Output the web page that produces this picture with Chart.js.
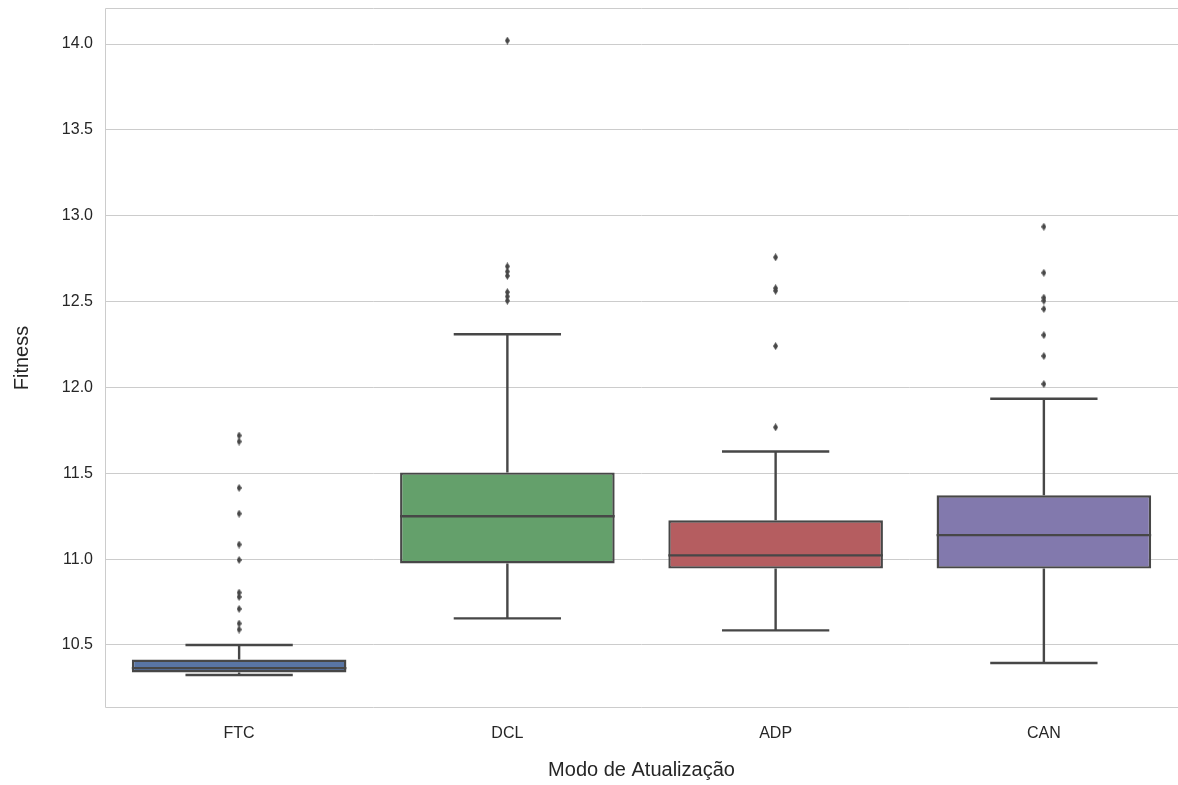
<!DOCTYPE html>
<html>
<head>
<meta charset="utf-8">
<title>Fitness por modo de atualização</title>
<script src="https://cdn.jsdelivr.net/npm/chart.js"></script>
<style>
  html, body { margin: 0; padding: 0; background: #fff; overflow: hidden; }
  canvas { display: block; }
</style>
</head>
<body>
<canvas id="boxChart" width="1178" height="785"></canvas>
<script>
// box statistics per update mode
const modes = ['FTC', 'DCL', 'ADP', 'CAN'];
const whiskerLow = [10.325, 10.655, 10.585, 10.395];
const q1 = [10.34, 10.975, 10.945, 10.945];
const medians = [10.365, 11.25, 11.022, 11.14];
const q3 = [10.415, 11.505, 11.226, 11.372];
const whiskerHigh = [10.5, 12.31, 11.627, 11.934];
const outliers = [
    [11.72, 11.685, 11.415, 11.265, 11.085, 10.995, 10.805, 10.78, 10.71, 10.625, 10.59],
    [14.02, 12.705, 12.675, 12.65, 12.555, 12.53, 12.505],
    [12.758, 12.578, 12.563, 12.241, 11.768],
    [12.936, 12.668, 12.523, 12.505, 12.457, 12.305, 12.183, 12.02]
];
const yTicks = [10.5, 11.0, 11.5, 12.0, 12.5, 13.0, 13.5, 14.0];

const boxColors = ['#5975a4', '#64a06b', '#b55d60', '#8279ad'];
const lineColor = '#474747';
const gridColor = '#cccccc';
const textColor = '#262626';
const fontFamily = '"Liberation Sans", Arial, sans-serif';

// thin diamond used for the fliers
function diamond(w, h, color) {
    const c = document.createElement('canvas');
    c.width = w;
    c.height = h;
    const g = c.getContext('2d');
    g.fillStyle = color;
    g.beginPath();
    g.moveTo(w / 2, 0);
    g.lineTo(w, h / 2);
    g.lineTo(w / 2, h);
    g.lineTo(0, h / 2);
    g.closePath();
    g.fill();
    return c;
}

const flierPoints = [];
outliers.forEach((list, i) => {
    list.forEach(v => flierPoints.push({ x: modes[i], y: v }));
});

// light frame around the plot area (right side falls off the canvas)
const frame = {
    id: 'frame',
    beforeDatasetsDraw(chart) {
        const { ctx, chartArea: a } = chart;
        const l = Math.round(a.left) + 0.5;
        const t = Math.round(a.top) + 0.5;
        const b = Math.round(a.bottom) - 0.5;
        ctx.save();
        ctx.strokeStyle = gridColor;
        ctx.lineWidth = 1;
        ctx.beginPath();
        ctx.moveTo(a.right, t); ctx.lineTo(l, t);
        ctx.lineTo(l, b); ctx.lineTo(a.right, b);
        ctx.stroke();
        ctx.restore();
    }
};

// whiskers, caps and median lines
const boxLines = {
    id: 'boxLines',
    afterDatasetsDraw(chart) {
        const { ctx, scales: { x, y } } = chart;
        const bars = chart.getDatasetMeta(0).data;
        ctx.save();
        ctx.strokeStyle = lineColor;
        ctx.lineWidth = 2.4;
        ctx.lineCap = 'butt';
        modes.forEach((m, i) => {
            const cx = x.getPixelForValue(i);
            const half = bars[i].width / 2;
            const cap = half / 2;
            const yq1 = y.getPixelForValue(q1[i]);
            const yq3 = y.getPixelForValue(q3[i]);
            const ylo = y.getPixelForValue(whiskerLow[i]);
            const yhi = y.getPixelForValue(whiskerHigh[i]);
            const ymed = y.getPixelForValue(medians[i]);
            ctx.beginPath();
            ctx.moveTo(cx, yq3); ctx.lineTo(cx, yhi);
            ctx.moveTo(cx - cap, yhi); ctx.lineTo(cx + cap, yhi);
            ctx.moveTo(cx, yq1); ctx.lineTo(cx, ylo);
            ctx.moveTo(cx - cap, ylo); ctx.lineTo(cx + cap, ylo);
            ctx.moveTo(cx - half, ymed); ctx.lineTo(cx + half, ymed);
            ctx.stroke();
        });
        ctx.restore();
    }
};

new Chart(document.getElementById('boxChart'), {
    type: 'bar',
    data: {
        labels: modes,
        datasets: [
            {
                type: 'bar',
                data: modes.map((m, i) => [q1[i], q3[i]]),
                backgroundColor: boxColors,
                borderColor: lineColor,
                borderWidth: 2.4,
                borderSkipped: false,
                barPercentage: 0.8,
                categoryPercentage: 1.0,
                order: 2
            },
            {
                type: 'scatter',
                data: flierPoints,
                pointStyle: diamond(5, 8, lineColor),
                pointRadius: 4,
                order: 1
            }
        ]
    },
    options: {
        responsive: false,
        animation: false,
        layout: { autoPadding: false, padding: { top: 8, right: 0, left: 0, bottom: 0 } },
        plugins: {
            legend: { display: false },
            tooltip: { enabled: false }
        },
        scales: {
            x: {
                type: 'category',
                offset: true,
                grid: { display: false },
                border: { display: false },
                ticks: { color: textColor, font: { family: fontFamily, size: 16 }, padding: 8 },
                title: {
                    display: true,
                    text: 'Modo de Atualização',
                    color: textColor,
                    font: { family: fontFamily, size: 20 },
                    padding: { top: 0, bottom: 3 }
                },
                afterFit(scale) {
                    scale.height = 77;
                    scale.paddingLeft = 0;
                    scale.paddingRight = 0;
                }
            },
            y: {
                min: 10.133,
                max: 14.21,
                grid: { color: gridColor, lineWidth: 1, drawTicks: false },
                border: { display: false },
                afterBuildTicks(scale) {
                    scale.ticks = yTicks.map(v => ({ value: v }));
                },
                ticks: {
                    color: textColor,
                    font: { family: fontFamily, size: 16 },
                    padding: 12,
                    callback: v => Number(v).toFixed(1)
                },
                title: {
                    display: true,
                    text: 'Fitness',
                    color: textColor,
                    font: { family: fontFamily, size: 20 },
                    padding: { top: 10, bottom: 0 }
                },
                afterFit(scale) {
                    scale.width = 105;
                    scale.paddingTop = 0;
                    scale.paddingBottom = 0;
                }
            }
        }
    },
    plugins: [frame, boxLines]
});
</script>
</body>
</html>
